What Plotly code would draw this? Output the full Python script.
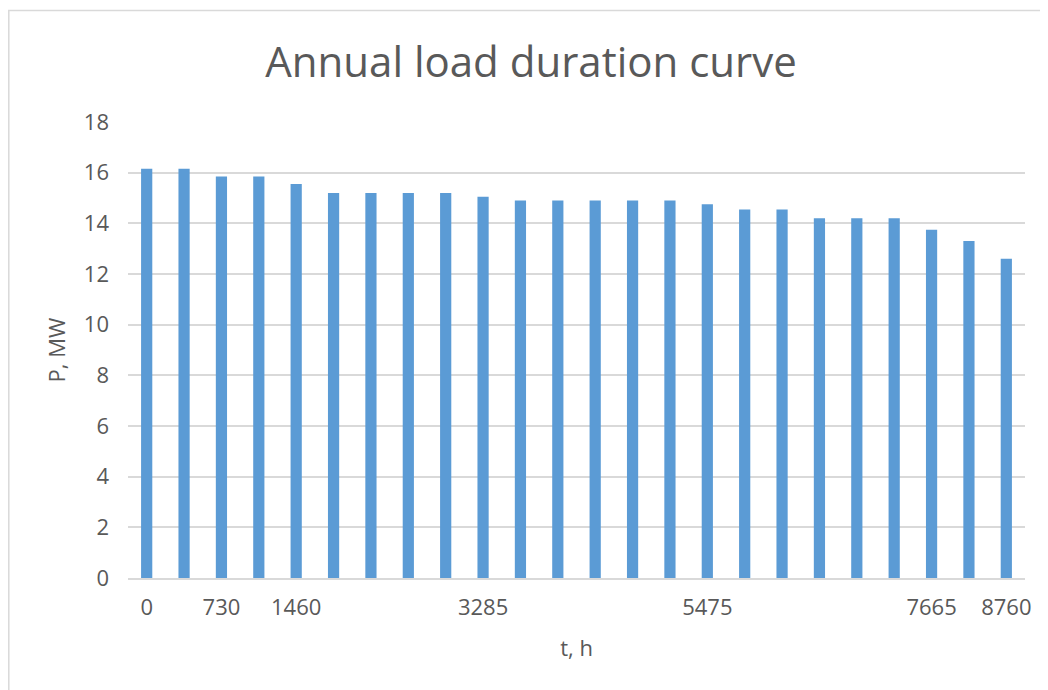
import plotly.graph_objects as go

# Data
category_labels = ["0", "", "730", "", "1460", "", "", "", "", "3285", "", "",
                   "", "", "", "5475", "", "", "", "", "", "7665", "", "8760"]
load_mw = [16.15, 16.15, 15.85, 15.85, 15.55, 15.2, 15.2, 15.2, 15.2, 15.05,
           14.9, 14.9, 14.9, 14.9, 14.9, 14.75, 14.55, 14.55, 14.2, 14.2,
           14.2, 13.75, 13.3, 12.6]
y_ticks = [0, 2, 4, 6, 8, 10, 12, 14, 16, 18]

idx = list(range(len(load_mw)))
tick_idx = [i for i, t in enumerate(category_labels) if t != ""]
tick_txt = [category_labels[i] for i in tick_idx]

OFF = 8  # page body margin
W, H = 1048 - OFF, 690 - OFF
ml, mr, mt, mb = 128 - OFF, 23, 122 - OFF, 112
pw, ph = W - ml - mr, H - mt - mb

def px_x(p):
    return (p - OFF - ml) / pw

def px_y(p):
    return (H - mb - (p - OFF)) / ph

text_col = "#595959"
font_fam = "Open Sans, DejaVu Sans, sans-serif"

fig = go.Figure()
fig.add_trace(go.Bar(
    x=idx, y=load_mw,
    marker=dict(color="#5B9BD5", line=dict(width=0)),
    hoverinfo="y",
))

fig.update_layout(
    width=W, height=H,
    margin=dict(l=ml, r=mr, t=mt, b=mb, pad=0),
    paper_bgcolor="white", plot_bgcolor="white",
    bargap=0.70,
    showlegend=False,
    font=dict(family=font_fam, color=text_col, size=22),
    title=dict(text="Annual load duration curve",
               xref="container", x=(531 - OFF) / W, xanchor="center",
               yref="container", y=1 - (62 - OFF) / H, yanchor="middle",
               font=dict(size=42, color=text_col, family=font_fam)),
    xaxis=dict(
        range=[-0.5, len(load_mw) - 0.5],
        tickmode="array", tickvals=tick_idx, ticktext=tick_txt,
        showgrid=False, zeroline=False,
        showline=True, linecolor="#D9D9D9", linewidth=1.5,
        ticks="", ticklabelstandoff=9,
        tickfont=dict(size=22, color=text_col),
        title=dict(text="t, h", font=dict(size=22, color=text_col), standoff=20),
        fixedrange=True,
    ),
    yaxis=dict(
        range=[0, 18],
        tickmode="array", tickvals=y_ticks,
        showgrid=True, gridcolor="#D9D9D9", gridwidth=1.5,
        zeroline=False, showline=False,
        ticks="", ticklabelstandoff=18,
        tickfont=dict(size=22, color=text_col),
        title=dict(text="P, MW", font=dict(size=22, color=text_col), standoff=12),
        fixedrange=True,
    ),
    shapes=[
        dict(type="rect", xref="paper", yref="paper",
             x0=px_x(OFF + 0.8), x1=px_x(1048 + 20), y0=px_y(690 + 20), y1=px_y(10.5),
             line=dict(color="#D9D9D9", width=1.5), fillcolor="rgba(0,0,0,0)",
             layer="below"),
    ],
)

fig.write_html("out.html")
